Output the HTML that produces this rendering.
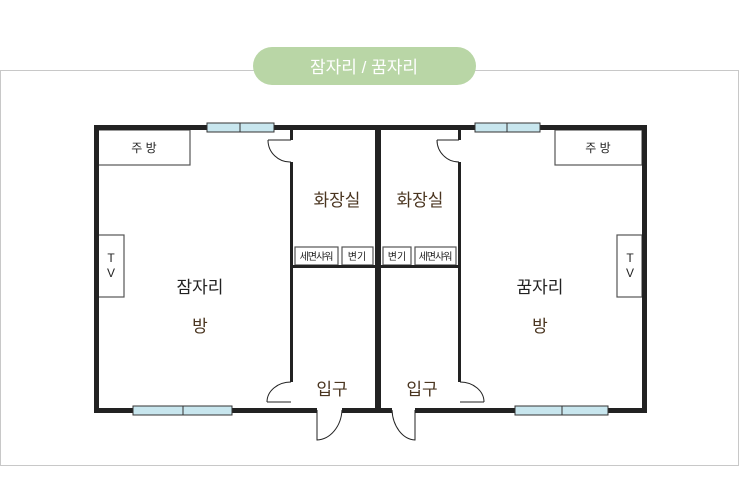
<!DOCTYPE html>
<html><head><meta charset="utf-8"><style>
html,body{margin:0;padding:0;background:#fff;width:740px;height:504px;overflow:hidden}
text{font-family:"Liberation Sans","Noto Sans CJK KR",sans-serif}
</style></head><body>
<svg width="740" height="504" viewBox="0 0 740 504" xmlns="http://www.w3.org/2000/svg">
<rect x="0.5" y="70.5" width="738" height="395" fill="#fff" stroke="#c8c8c8" stroke-width="1"/>
<rect x="253" y="47" width="223" height="38" rx="19" fill="#b9d6a6"/>
<text x="364" y="73" font-size="17" fill="#fff" text-anchor="middle">잠자리 / 꿈자리</text>

<!-- kitchens & TVs -->
<g fill="#fff" stroke="#555" stroke-width="1.2">
<rect x="98" y="130" width="92" height="35"/>
<rect x="555" y="130" width="87" height="35"/>
<rect x="98" y="235" width="26" height="62"/>
<rect x="617" y="235" width="25" height="62"/>
<!-- fixtures -->
<rect x="295" y="247" width="43" height="18"/>
<rect x="342" y="247" width="31" height="18"/>
<rect x="383" y="247" width="28" height="18"/>
<rect x="415" y="247" width="41" height="18"/>
</g>
<g fill="#222">
<!-- outer walls -->
<rect x="94" y="125" width="553" height="5"/>
<rect x="94" y="125" width="5" height="288"/>
<rect x="642" y="125" width="5" height="288"/>
<rect x="94" y="408" width="223" height="5"/>
<rect x="342" y="408" width="50" height="5"/>
<rect x="415" y="408" width="232" height="5"/>
<!-- middle wall -->
<rect x="375" y="125" width="6" height="288"/>
<!-- inner walls left -->
<rect x="290" y="125" width="3" height="15"/>
<rect x="290" y="162" width="3" height="220"/>
<rect x="458" y="125" width="3" height="15"/>
<rect x="458" y="162" width="3" height="220"/>
<!-- fixture baseline -->
<rect x="290" y="265" width="171" height="3"/>
</g>
<!-- windows -->
<g fill="#c8e6ee" stroke="#333" stroke-width="1">
<rect x="207" y="123" width="33" height="9"/><rect x="240" y="123" width="34" height="9"/>
<rect x="475" y="123" width="32" height="9"/><rect x="507" y="123" width="33" height="9"/>
<rect x="133" y="406" width="50" height="9"/><rect x="183" y="406" width="49" height="9"/>
<rect x="515" y="406" width="47" height="9"/><rect x="562" y="406" width="46" height="9"/>
</g>
<!-- doors -->
<g fill="none" stroke="#222" stroke-width="1">
<path d="M268 140 L291 140 M268 140 A22 22 0 0 0 291 162"/>
<path d="M437 140 L459 140 M437 140 A22 22 0 0 0 459 162"/>
<path d="M267 402 L291 402 M267 402 A24 20 0 0 1 291 382"/>
<path d="M484 402 L460 402 M484 402 A24 20 0 0 0 460 382"/>
<path d="M317 410 L317 440 A26 32 0 0 0 342 410"/>
<path d="M415 410 L415 440 A24 32 0 0 1 392 410"/>
</g>
<g fill="#222" font-size="12" text-anchor="middle">
<text x="144" y="152">주 방</text>
<text x="598" y="152">주 방</text>
<text x="111" y="262">T</text><text x="111" y="277">V</text>
<text x="630" y="262">T</text><text x="630" y="277">V</text>
</g>
<g fill="#222" font-size="10" text-anchor="middle">
<text x="316" y="260" letter-spacing="-1">세면샤워</text>
<text x="357" y="260">변기</text>
<text x="397" y="260">변기</text>
<text x="435" y="260" letter-spacing="-1">세면샤워</text>
</g>
<g fill="#4a3520" font-size="17" text-anchor="middle">
<text x="337" y="206">화장실</text>
<text x="420" y="206">화장실</text>
<text x="332" y="395">입구</text>
<text x="422" y="395">입구</text>
<text x="200" y="332">방</text>
<text x="540" y="332">방</text>
</g>
<g fill="#222" font-size="17" text-anchor="middle">
<text x="200" y="293">잠자리</text>
<text x="540" y="293">꿈자리</text>
</g>
</svg>
</body></html>
